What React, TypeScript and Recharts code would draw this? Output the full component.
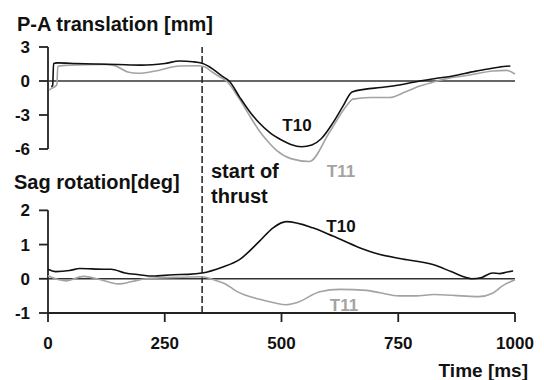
import { LineChart, Line, XAxis, YAxis, ReferenceLine } from 'recharts';

// P-A translation [mm], time in ms
const paT10 = [
  { t: 7, v: -0.5 }, { t: 10, v: -0.4 }, { t: 12, v: 1.55 }, { t: 20, v: 1.6 },
  { t: 60, v: 1.55 }, { t: 100, v: 1.5 }, { t: 150, v: 1.45 }, { t: 200, v: 1.4 },
  { t: 250, v: 1.55 }, { t: 282, v: 1.76 }, { t: 310, v: 1.7 }, { t: 330, v: 1.56 },
  { t: 353, v: 1.05 }, { t: 372, v: 0.45 }, { t: 388, v: 0 }, { t: 410, v: -1.4 },
  { t: 430, v: -2.6 }, { t: 450, v: -3.6 }, { t: 475, v: -4.55 }, { t: 500, v: -5.2 },
  { t: 520, v: -5.6 }, { t: 543, v: -5.8 }, { t: 565, v: -5.65 }, { t: 585, v: -5.1 },
  { t: 610, v: -3.7 }, { t: 632, v: -2.2 }, { t: 651, v: -0.97 },
  { t: 680, v: -0.72 }, { t: 711, v: -0.58 }, { t: 739, v: -0.44 }, { t: 796, v: 0 },
  { t: 830, v: 0.22 }, { t: 867, v: 0.44 }, { t: 914, v: 0.85 }, { t: 939, v: 1.03 },
  { t: 965, v: 1.22 }, { t: 990, v: 1.32 },
];

const paT11 = [
  { t: 2, v: -0.8 }, { t: 8, v: -0.65 }, { t: 16, v: -0.45 }, { t: 19, v: -0.3 },
  { t: 21, v: 1.3 }, { t: 45, v: 1.4 }, { t: 119, v: 1.47 }, { t: 141, v: 1.38 },
  { t: 171, v: 0.8 }, { t: 193, v: 0.68 }, { t: 230, v: 0.88 }, { t: 282, v: 1.32 },
  { t: 320, v: 1.34 }, { t: 335, v: 1.25 }, { t: 353, v: 0.75 }, { t: 368, v: 0.35 },
  { t: 382, v: 0 }, { t: 410, v: -1.6 }, { t: 430, v: -2.95 }, { t: 450, v: -4.25 },
  { t: 470, v: -5.3 }, { t: 490, v: -6.15 }, { t: 520, v: -6.85 }, { t: 560, v: -7.1 },
  { t: 603, v: -4.5 }, { t: 639, v: -2.2 }, { t: 653, v: -1.6 },
  { t: 690, v: -1.45 }, { t: 731, v: -1.46 }, { t: 766, v: -0.95 }, { t: 796, v: -0.44 },
  { t: 830, v: -0.05 }, { t: 853, v: 0.21 }, { t: 900, v: 0.5 }, { t: 953, v: 0.88 },
  { t: 982, v: 0.94 }, { t: 1000, v: 0.62 },
];

// Sag rotation [deg]
const sagT10 = [
  { t: 0, v: 0.28 }, { t: 16, v: 0.21 }, { t: 46, v: 0.24 }, { t: 68, v: 0.3 },
  { t: 120, v: 0.28 }, { t: 135, v: 0.28 }, { t: 165, v: 0.17 }, { t: 195, v: 0.12 },
  { t: 224, v: 0.08 }, { t: 269, v: 0.12 }, { t: 300, v: 0.13 }, { t: 330, v: 0.17 },
  { t: 373, v: 0.34 }, { t: 410, v: 0.56 }, { t: 453, v: 1.1 }, { t: 482, v: 1.49 },
  { t: 510, v: 1.67 }, { t: 567, v: 1.49 }, { t: 610, v: 1.25 }, { t: 667, v: 0.91 },
  { t: 711, v: 0.71 }, { t: 759, v: 0.58 }, { t: 826, v: 0.41 },
  { t: 863, v: 0.21 }, { t: 892, v: 0.05 }, { t: 907, v: 0 }, { t: 929, v: 0.04 },
  { t: 952, v: 0.17 }, { t: 967, v: 0.15 }, { t: 981, v: 0.19 }, { t: 996, v: 0.23 },
];

const sagT11 = [
  { t: 0, v: 0.09 }, { t: 24, v: -0.03 }, { t: 39, v: -0.06 }, { t: 76, v: 0.07 },
  { t: 113, v: -0.03 }, { t: 150, v: -0.15 }, { t: 180, v: -0.08 }, { t: 209, v: 0 },
  { t: 269, v: 0.04 }, { t: 330, v: 0.06 }, { t: 353, v: -0.02 }, { t: 380, v: -0.15 },
  { t: 403, v: -0.36 }, { t: 453, v: -0.6 }, { t: 484, v: -0.7 }, { t: 510, v: -0.76 },
  { t: 532, v: -0.7 }, { t: 582, v: -0.38 }, { t: 625, v: -0.31 }, { t: 682, v: -0.34 },
  { t: 711, v: -0.41 }, { t: 751, v: -0.5 }, { t: 788, v: -0.5 }, { t: 826, v: -0.46 },
  { t: 885, v: -0.5 }, { t: 922, v: -0.52 }, { t: 952, v: -0.42 }, { t: 974, v: -0.2 },
  { t: 1000, v: -0.03 },
];

const timeTicks = [0, 250, 500, 750, 1000];
const paTicks = [-6, -3, 0, 3];
const sagTicks = [-1, 0, 1, 2];
const thrustStart = 330;

const FONT = '"Liberation Sans", Arial, sans-serif';
const AXIS = '#222';
const BLACK = '#111';
const GRAY = '#a3a3a3';
const tickStyle = { fontFamily: FONT, fontSize: 17, fontWeight: 700, fill: BLACK };

export default function App() {
  return (
    <div style={{ position: 'absolute', left: 0, top: 0, width: 544, height: 380, background: '#fff' }}>
      <div style={{ position: 'absolute', left: 0, top: 0 }}>
        <LineChart width={544} height={186} margin={{ top: 47, right: 29, left: 0, bottom: 3 }}>
          <XAxis type="number" dataKey="t" domain={[0, 1000]} hide />
          <YAxis
            type="number"
            domain={[-9, 3]}
            ticks={paTicks}
            width={48}
            axisLine={false}
            tickLine={{ stroke: AXIS, strokeWidth: 1.8 }}
            tickSize={9}
            tickMargin={9}
            tick={tickStyle}
          />
          <ReferenceLine segment={[{ x: 0, y: -6 }, { x: 0, y: 3 }]} stroke={AXIS} strokeWidth={1.8} />
          <ReferenceLine y={0} stroke="#333" strokeWidth={1.5} />
          <ReferenceLine x={thrustStart} stroke={AXIS} strokeWidth={1.5} strokeDasharray="7 3" />
          <Line data={paT11} dataKey="v" type="monotone" stroke={GRAY} strokeWidth={1.6} dot={false} isAnimationActive={false} />
          <Line data={paT10} dataKey="v" type="monotone" stroke={BLACK} strokeWidth={1.6} dot={false} isAnimationActive={false} />
        </LineChart>
      </div>
      <div style={{ position: 'absolute', left: 0, top: 0 }}>
        <LineChart width={544} height={380} margin={{ top: 183, right: 29, left: 0, bottom: 27 }}>
          <XAxis
            type="number"
            dataKey="t"
            domain={[0, 1000]}
            ticks={timeTicks}
            height={40}
            axisLine={{ stroke: AXIS, strokeWidth: 1.8 }}
            tickLine={{ stroke: AXIS, strokeWidth: 1.8 }}
            tickSize={9}
            tickMargin={15}
            tick={tickStyle}
          />
          <YAxis
            type="number"
            domain={[-1, 2.8]}
            ticks={sagTicks}
            width={48}
            axisLine={false}
            tickLine={{ stroke: AXIS, strokeWidth: 1.8 }}
            tickSize={9}
            tickMargin={9}
            tick={tickStyle}
          />
          <ReferenceLine segment={[{ x: 0, y: -1 }, { x: 0, y: 2 }]} stroke={AXIS} strokeWidth={1.8} />
          <ReferenceLine y={0} stroke="#333" strokeWidth={1.5} />
          <ReferenceLine x={thrustStart} stroke={AXIS} strokeWidth={1.5} strokeDasharray="7 3" />
          <Line data={sagT11} dataKey="v" type="monotone" stroke={GRAY} strokeWidth={1.6} dot={false} isAnimationActive={false} />
          <Line data={sagT10} dataKey="v" type="monotone" stroke={BLACK} strokeWidth={1.6} dot={false} isAnimationActive={false} />
        </LineChart>
      </div>
      <svg width={544} height={380} style={{ position: 'absolute', left: 0, top: 0, pointerEvents: 'none' }}>
        <g fontFamily={FONT} fontWeight={700}>
          <text x={17} y={31} fontSize={20} fill={BLACK}>P-A translation [mm]</text>
          <text x={14} y={189} fontSize={20} fill={BLACK}>Sag rotation[deg]</text>
          <text x={211} y={178} fontSize={20} fill={BLACK}>start of</text>
          <text x={211} y={203} fontSize={20} fill={BLACK}>thrust</text>
          <text x={528} y={377} fontSize={19} fill={BLACK} textAnchor="end">Time [ms]</text>
          <text x={297} y={131} fontSize={17} fill={BLACK} textAnchor="middle">T10</text>
          <text x={341} y={177} fontSize={17} fill={GRAY} textAnchor="middle">T11</text>
          <text x={341} y={232} fontSize={17} fill={BLACK} textAnchor="middle">T10</text>
          <text x={344} y={311} fontSize={17} fill={GRAY} textAnchor="middle">T11</text>
        </g>
      </svg>
    </div>
  );
}
